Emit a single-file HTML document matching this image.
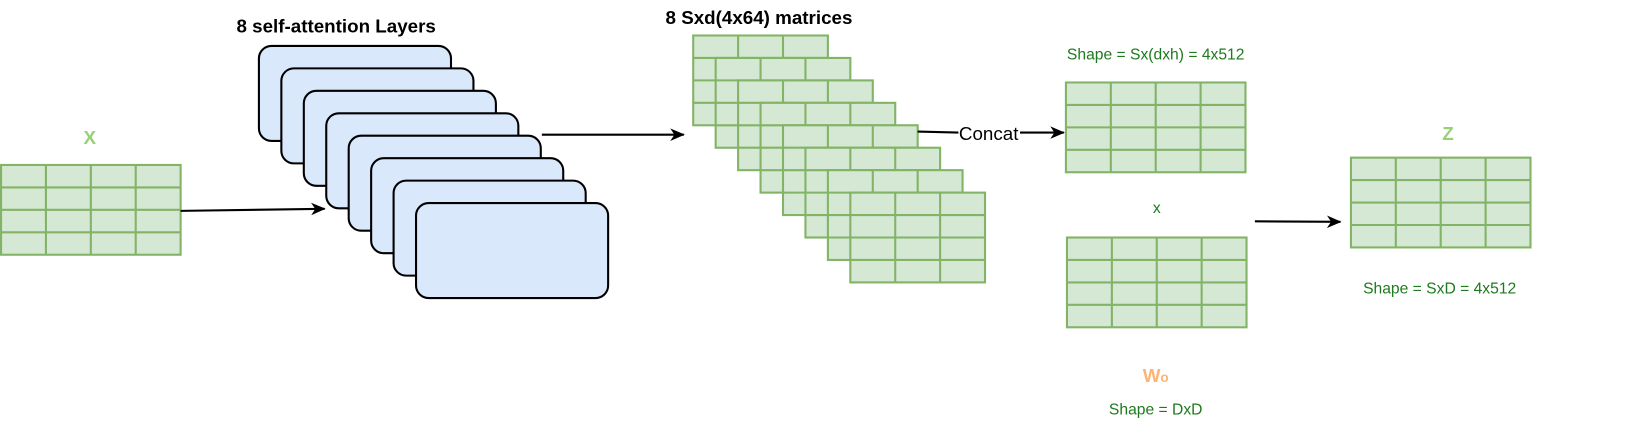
<!DOCTYPE html>
<html><head><meta charset="utf-8"><style>
html,body{margin:0;padding:0;background:#fff;overflow:hidden;width:1637px;height:424px;}
svg{display:block;font-family:"Liberation Sans",sans-serif;}
</style></head><body>
<svg width="1637" height="424" viewBox="0 0 1637 424" xmlns="http://www.w3.org/2000/svg">
<defs>
<g id="m3">
<rect x="0" y="0" width="129" height="86" fill="#d5e8d4" stroke="#82b366" stroke-width="2"/>
<path d="M43 0V86M86 0V86M0 21.5H129M0 43H129M0 64.5H129" stroke="#82b366" stroke-width="2" fill="none"/>
</g>
<g id="m4">
<rect x="0" y="0" width="172" height="86" fill="#d5e8d4" stroke="#82b366" stroke-width="2"/>
<path d="M43 0V86M86 0V86M129 0V86M0 21.5H172M0 43H172M0 64.5H172" stroke="#82b366" stroke-width="2" fill="none"/>
</g>
<g id="rr"><rect x="0" y="0" width="184" height="91" rx="12" fill="#dae8fc" stroke="#000" stroke-width="2"/></g>
<marker id="ar" markerWidth="14" markerHeight="12" refX="13" refY="6" orient="auto" markerUnits="userSpaceOnUse">
<path d="M0 0L14 6L0 12L4 6Z" fill="#000"/></marker>
</defs>
<g transform="scale(1.044)">
<text x="86" y="138" text-anchor="middle" font-size="18" font-weight="bold" fill="#97d077">X</text>
<use href="#m4" x="1" y="158"/>
<line x1="173" y1="202" x2="311" y2="200" stroke="#000" stroke-width="2" marker-end="url(#ar)"/>

<text x="322" y="31" text-anchor="middle" font-size="18" font-weight="bold" fill="#000">8 self-attention Layers</text>
<use href="#rr" x="248" y="44"/>
<use href="#rr" x="269.5" y="65.5"/>
<use href="#rr" x="291" y="87"/>
<use href="#rr" x="312.5" y="108.5"/>
<use href="#rr" x="334" y="130"/>
<use href="#rr" x="355.5" y="151.5"/>
<use href="#rr" x="377" y="173"/>
<use href="#rr" x="398.5" y="194.5"/>
<line x1="519" y1="129" x2="655" y2="129" stroke="#000" stroke-width="2" marker-end="url(#ar)"/>

<text x="727" y="23" text-anchor="middle" font-size="18" font-weight="bold" fill="#000">8 Sxd(4x64) matrices</text>
<use href="#m3" x="664" y="34"/>
<use href="#m3" x="685.5" y="55.5"/>
<use href="#m3" x="707" y="77"/>
<use href="#m3" x="728.5" y="98.5"/>
<use href="#m3" x="750" y="120"/>
<use href="#m3" x="771.5" y="141.5"/>
<use href="#m3" x="793" y="163"/>
<use href="#m3" x="814.5" y="184.5"/>

<line x1="879" y1="126" x2="918" y2="127" stroke="#000" stroke-width="2"/>
<text x="947" y="134" text-anchor="middle" font-size="18" fill="#000">Concat</text>
<line x1="977" y1="127" x2="1019" y2="127" stroke="#000" stroke-width="2" marker-end="url(#ar)"/>

<text x="1107" y="57" text-anchor="middle" font-size="15" fill="#1e7a1e">Shape = Sx(dxh) = 4x512</text>
<use href="#m4" x="1021" y="79"/>
<text x="1108" y="204" text-anchor="middle" font-size="15" fill="#1e7a1e">x</text>
<use href="#m4" x="1022" y="227.5"/>
<text x="1107" y="366" text-anchor="middle" font-size="18" font-weight="bold" fill="#ffb570">W<tspan font-size="13">o</tspan></text>
<text x="1107" y="397" text-anchor="middle" font-size="15" fill="#1e7a1e">Shape = DxD</text>

<line x1="1202" y1="212" x2="1284" y2="212.5" stroke="#000" stroke-width="2" marker-end="url(#ar)"/>

<text x="1387" y="134" text-anchor="middle" font-size="18" font-weight="bold" fill="#97d077">Z</text>
<use href="#m4" x="1294" y="151"/>
<text x="1379" y="281" text-anchor="middle" font-size="15" fill="#1e7a1e">Shape = SxD = 4x512</text>
</g>
</svg>
</body></html>
